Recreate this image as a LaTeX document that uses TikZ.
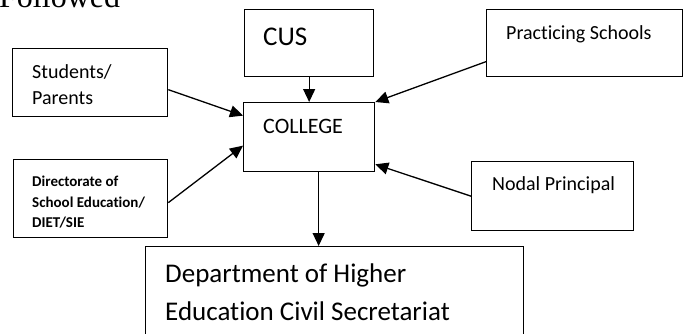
\documentclass[tikz,border=0pt]{standalone}
\usepackage{fontspec}
\setmainfont{Carlito}[Ligatures={NoCommon}]
\newfontfamily\serifface{Liberation Serif}
\usetikzlibrary{arrows.meta,calc}
\tikzset{
  boxnode/.style={draw=black,line width=1.3pt,rectangle,inner sep=0pt,anchor=north west},
  lbl/.style={anchor=base west,inner sep=0pt,text=black},
  conn/.style={line width=1.3pt,-{Triangle[length=13pt,width=12pt]}},
}
\begin{document}
\begin{tikzpicture}[x=1pt,y=-1pt]
\useasboundingbox (0,0) rectangle (684,333);
\clip (0,0) rectangle (684,333);
% boxes
\node[boxnode,minimum width=155pt,minimum height=68pt] (stud) at (12,48) {};
\node[boxnode,minimum width=129pt,minimum height=67pt] (cus) at (244,9) {};
\node[boxnode,minimum width=131pt,minimum height=69pt] (coll) at (243,102) {};
\node[boxnode,minimum width=196pt,minimum height=67pt] (prac) at (486,9) {};
\node[boxnode,minimum width=162pt,minimum height=69pt] (nodal) at (471,161) {};
\node[boxnode,minimum width=154pt,minimum height=78pt] (dir) at (13,159) {};
\node[boxnode,minimum width=378pt,minimum height=110pt] (dept) at (145,246) {};
% texts
\node[lbl] (tfol) at (-1,7.5) {\serifface\fontsize{32}{36}\selectfont Followed};
\node[lbl] (tstud1) at (32,78) {\fontsize{20}{24}\selectfont Students/};
\node[lbl] (tstud2) at (32,104) {\fontsize{20}{24}\selectfont Parents};
\node[lbl] (tcus) at (263,45) {\fontsize{27}{32}\selectfont CUS};
\node[lbl] (tcoll) at (263,133) {\fontsize{22}{26}\selectfont COLLEGE};
\node[lbl] (tprac) at (506,39) {\fontsize{20}{24}\selectfont Practicing Schools};
\node[lbl] (tnodal) at (492,190) {\fontsize{20}{24}\selectfont Nodal Principal};
\node[lbl] (tdir1) at (32,186) {\bfseries\fontsize{15}{18}\selectfont Directorate of};
\node[lbl] (tdir2) at (32,207) {\bfseries\fontsize{15}{18}\selectfont School Education/};
\node[lbl] (tdir3) at (32,227) {\bfseries\fontsize{15}{18}\selectfont DIET/SIE};
\node[lbl] (tdept1) at (165,282) {\fontsize{27}{32}\selectfont Department of Higher};
\node[lbl] (tdept2) at (165,320) {\fontsize{27}{32}\selectfont Education Civil Secretariat};
% connectors
\draw[conn] ([yshift=-7pt]stud.east) -- ([yshift=21.5pt]coll.west);
\draw[conn] (cus.south) -- (coll.north);
\draw[conn] ([yshift=-18.5pt]prac.west) -- (coll.north east);
\draw[conn] (nodal.west) -- ([yshift=8pt]coll.south east);
\draw[conn] ([yshift=-4pt]dir.east) -- ([yshift=-8.5pt]coll.west);
\coordinate (cdown) at ([xshift=9.5pt]coll.south);
\draw[conn] (cdown) -- (cdown |- dept.north);
\end{tikzpicture}
\end{document}
